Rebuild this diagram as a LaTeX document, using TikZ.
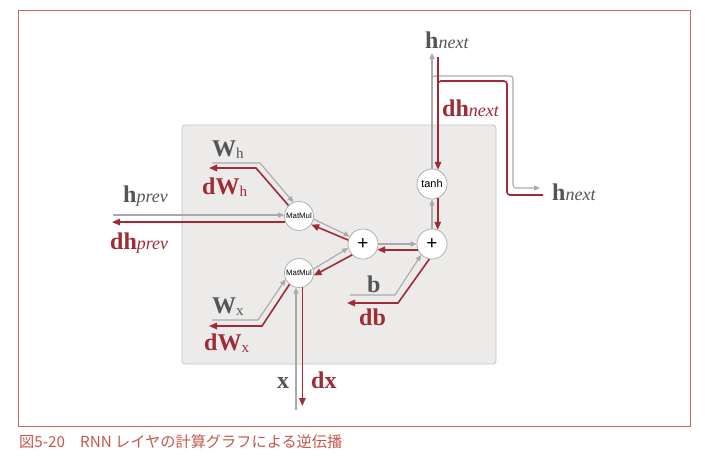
\documentclass[tikz,border=0pt]{standalone}
\usepackage{fontspec}
\setmainfont{Liberation Serif}
\setsansfont{Liberation Sans}
\newfontfamily\cjk{Noto Sans CJK JP}
\usetikzlibrary{arrows.meta}
\definecolor{gl}{HTML}{A9A9A9}
\definecolor{rl}{HTML}{9E2B35}
\definecolor{gt}{HTML}{555555}
\definecolor{fr}{HTML}{C86A5C}
\definecolor{bx}{HTML}{EDEBE9}
\definecolor{bxd}{HTML}{C4C4C4}
\definecolor{capc}{HTML}{C4574C}
\newcommand\mysubi[1]{{\fontsize{18}{18}\selectfont\mdseries\itshape #1}}
\newcommand\mysubr[1]{\raisebox{-2pt}{\fontsize{15}{15}\selectfont\mdseries #1}}
\begin{document}
\begin{tikzpicture}[x=1pt,y=-1pt,
  gline/.style={draw=gl,line width=1.1pt,-{Triangle[length=6pt,width=5pt]}},
  rline/.style={draw=rl,line width=1.6pt,-{Triangle[length=8pt,width=6.5pt]}},
  rplain/.style={draw=rl,line width=1.6pt},
  op/.style={circle,draw=gl,fill=white,line width=0.7pt,inner sep=0pt},
  glab/.style={anchor=base west,text=gt,inner sep=0pt,font=\fontsize{24}{24}\selectfont\bfseries},
  rlab/.style={anchor=base west,text=rl,inner sep=0pt,font=\fontsize{24}{24}\selectfont\bfseries},
]
\useasboundingbox (0,0) rectangle (705,464);
% frame and box
\draw[fr,line width=1pt] (18.5,10.5) rectangle (690.5,426.5);
\draw[bxd,fill=bx,rounded corners=3pt,line width=0.8pt] (182,125) rectangle (496,364);

% operation nodes
\node[op,minimum size=29pt,font=\sffamily\fontsize{7.8}{7.8}\selectfont] (mt) at (299,216) {MatMul};
\node[op,minimum size=29pt,font=\sffamily\fontsize{7.8}{7.8}\selectfont] (mb) at (299,273) {MatMul};
\node[op,minimum size=30pt,font=\sffamily\fontsize{19}{19}\selectfont] (pl) at (363,244) {+};
\node[op,minimum size=30pt,font=\sffamily\fontsize{19}{19}\selectfont] (pr) at (432,244) {+};
\node[op,minimum size=30pt,font=\sffamily\fontsize{11}{11}\selectfont] (th) at (432,184) {tanh};

% free ends
\coordinate (hpg) at (113,215);
\coordinate (dhpe) at (112,222);
\coordinate (whs) at (212,163);
\coordinate (whb) at (260,163);
\coordinate (dwhb) at (256,168);
\coordinate (dwhe) at (209,168);
\coordinate (wxs) at (212,320);
\coordinate (wxb) at (258,320);
\coordinate (dwxb) at (262,326);
\coordinate (dwxe) at (209,326);
\coordinate (xs) at (296,410);
\coordinate (dxe) at (303,406);
\coordinate (bs) at (350,295);
\coordinate (bb) at (395,295);
\coordinate (dbb) at (398,303);
\coordinate (dbe) at (347,303);
\coordinate (hnt) at (432,53);
\coordinate (gb) at (432,82);
\coordinate (gc1) at (432,76);
\coordinate (gc2) at (513,76);
\coordinate (gc3) at (513,188);
\coordinate (hnr) at (540,188);
\coordinate (dht) at (438,57);
\coordinate (dr0) at (543,195);
\coordinate (dr1) at (507,195);
\coordinate (dr2) at (507,81);
\coordinate (dr3) at (438,81);

% forward (gray)
\draw[gline] (hpg) -- (hpg -| mt.west);
\draw[gline] (whs) -- (whb) -- (mt.112);
\draw[gline] (wxs) -- (wxb) -- (mb.205);
\draw[gline] (xs) -- (xs |- mb.260);
\draw[gline] (mt.-12) -- (pl.150);
\draw[gline] (mb.15) -- (pl.195);
\draw[gline] (pl.east) -- (pr.west);
\draw[gline] (bs) -- (bb) -- (pr.225);
\draw[gline] (pr.north) -- (th.south);
\draw[gline] (th.north) -- (hnt);
\draw[gline,rounded corners=3pt] (gb) -- (gc1) -- (gc2) -- (gc3) -- (hnr);

% backward (red)
\draw[rline] (mt.204) -- (mt.204 -| dhpe);
\draw[rline] (mt.135) -- (dwhb) -- (dwhe);
\draw[rline] (mb.230) -- (dwxb) -- (dwxe);
\draw[rline] (mb.283) -- (mb.283 |- dxe);
\draw[rline] (pl.165) -- (mt.-35);
\draw[rline] (pl.225) -- (mb.-10);
\draw[rline] (pr.202) -- (pl.-22);
\draw[rline] (pr.260) -- (dbb) -- (dbe);
\draw[rline] (th.-68) -- (pr.68);
\draw[rline] (dht) -- (dht |- th.68);
\draw[rplain,rounded corners=3pt] (dr0) -- (dr1) -- (dr2) -- (dr3) -- ([yshift=-4pt]dr3);

% labels
\node[glab] (lhp) at (123,202) {h\mysubi{prev}};
\node[rlab] (ldhp) at (110,249) {dh\mysubi{prev}};
\node[glab] (lwh) at (212,156) {W\mysubr{h}};
\node[rlab] (ldwh) at (202,194) {dW\mysubr{h}};
\node[glab] (lwx) at (212,313) {W\mysubr{x}};
\node[rlab] (ldwx) at (204,350) {dW\mysubr{x}};
\node[glab] (lb) at (367,292) {b};
\node[rlab] (ldb) at (359,325) {db};
\node[glab] (lx) at (277,388) {x};
\node[rlab] (ldx) at (311,388) {dx};
\node[glab] (lhn) at (425,48) {h\mysubi{next}};
\node[rlab] (ldhn) at (442,116) {dh\mysubi{next}};
\node[glab] (lhnr) at (552,200) {h\mysubi{next}};

% caption
\node[anchor=base west,inner sep=0pt,text=capc,font=\cjk\fontsize{15.2}{15.2}\selectfont] (cap) at (19,447) {図5-20　RNN レイヤの計算グラフによる逆伝播};
\end{tikzpicture}
\end{document}
